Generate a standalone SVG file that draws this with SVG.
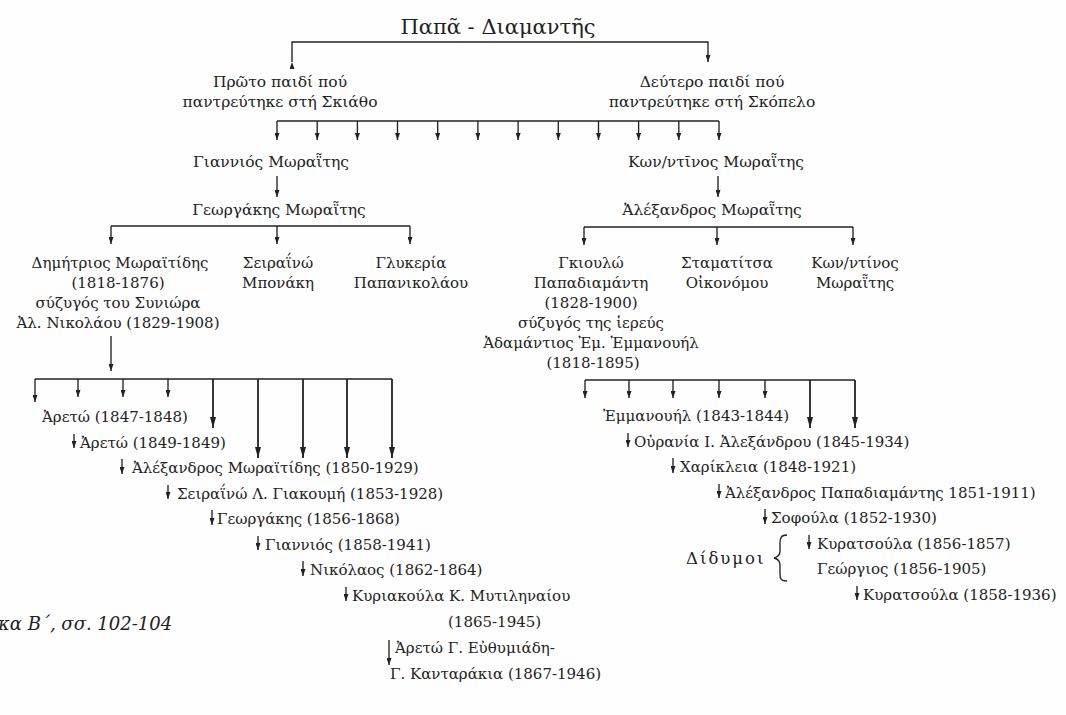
<svg xmlns="http://www.w3.org/2000/svg" width="1066" height="715" viewBox="0 0 1066 715">
<defs>
<style>
text{font-family:"DejaVu Serif","Liberation Serif",serif;fill:#222;font-size:15px}
.c{text-anchor:middle}
.t{font-size:21px}
.n{font-size:15.5px}
.it{font-style:italic;font-size:18px}
.dd{letter-spacing:2px;font-size:16.5px}
.ln{fill:none;stroke:#222;stroke-width:1.35}
.lg{fill:none;stroke:#222;stroke-width:1.8}
</style>
<marker id="ah" viewBox="0 0 10 10" refX="10" refY="5" markerWidth="7" markerHeight="5" markerUnits="userSpaceOnUse" orient="auto" preserveAspectRatio="none"><path d="M0,0 L10,5 L0,10 z" fill="#222"/></marker>
<marker id="ahL" viewBox="0 0 10 10" refX="10" refY="5" markerWidth="11" markerHeight="6" markerUnits="userSpaceOnUse" orient="auto" preserveAspectRatio="none"><path d="M0,0 L10,5 L0,10 z" fill="#222"/></marker>
</defs>
<rect width="1066" height="715" fill="#fefefe"/>

<g id="connectors">
<path class="ln" d="M292,62 V42 H708 V62" marker-start="url(#ah)" marker-end="url(#ah)"/>
<path class="ln" d="M277,121 H719"/>
<g class="ln" marker-end="url(#ah)">
<line x1="277" y1="121" x2="277" y2="140"/><line x1="317.2" y1="121" x2="317.2" y2="140"/><line x1="357.4" y1="121" x2="357.4" y2="140"/><line x1="397.5" y1="121" x2="397.5" y2="140"/><line x1="437.7" y1="121" x2="437.7" y2="140"/><line x1="477.9" y1="121" x2="477.9" y2="140"/><line x1="518.1" y1="121" x2="518.1" y2="140"/><line x1="558.3" y1="121" x2="558.3" y2="140"/><line x1="598.5" y1="121" x2="598.5" y2="140"/><line x1="638.6" y1="121" x2="638.6" y2="140"/><line x1="678.8" y1="121" x2="678.8" y2="140"/><line x1="719" y1="121" x2="719" y2="140"/>
<line x1="277" y1="176" x2="277" y2="197"/><line x1="718" y1="176" x2="718" y2="197"/>
<line x1="111" y1="226" x2="111" y2="244"/><line x1="277" y1="226" x2="277" y2="244"/><line x1="410" y1="226" x2="410" y2="244"/>
<line x1="584" y1="227" x2="584" y2="245"/><line x1="717" y1="227" x2="717" y2="245"/><line x1="853" y1="227" x2="853" y2="245"/>
<line x1="111" y1="336" x2="111" y2="371"/>
<line x1="35" y1="379" x2="35" y2="402"/><line x1="78" y1="379" x2="78" y2="397"/><line x1="123" y1="379" x2="123" y2="397"/><line x1="168" y1="379" x2="168" y2="397"/>
<line x1="585" y1="380" x2="585" y2="398"/><line x1="629" y1="380" x2="629" y2="398"/><line x1="673" y1="380" x2="673" y2="398"/><line x1="719" y1="380" x2="719" y2="398"/><line x1="765" y1="380" x2="765" y2="398"/>
</g>
<path class="ln" d="M111,226 H410 M584,227 H853 M35,379 H392 M585,380 H855"/>
<g class="lg" marker-end="url(#ahL)">
<line x1="213" y1="379" x2="213" y2="428"/><line x1="258" y1="379" x2="258" y2="458"/><line x1="303" y1="379" x2="303" y2="458"/><line x1="347" y1="379" x2="347" y2="458"/><line x1="392" y1="379" x2="392" y2="458"/>
<line x1="810" y1="380" x2="810" y2="428"/><line x1="855" y1="380" x2="855" y2="428"/>
</g>
<g class="ln" marker-end="url(#ah)">
<line x1="74" y1="434" x2="74" y2="448"/>
<line x1="122" y1="459" x2="122" y2="474"/>
<line x1="168" y1="485" x2="168" y2="499"/>
<line x1="212" y1="510" x2="212" y2="525"/>
<line x1="258" y1="536" x2="258" y2="550"/>
<line x1="303" y1="561" x2="303" y2="576"/>
<line x1="346" y1="587" x2="346" y2="601"/>
<line x1="389" y1="640" x2="389" y2="665"/>
<line x1="628" y1="433" x2="628" y2="447"/>
<line x1="673" y1="458" x2="673" y2="473"/>
<line x1="719" y1="484" x2="719" y2="498"/>
<line x1="765" y1="509" x2="765" y2="524"/>
<line x1="809" y1="535" x2="809" y2="549"/>
<line x1="857" y1="586" x2="857" y2="600"/>
</g>
<path class="ln" stroke-width="1.5" d="M787,535 C781,535 780,538 780,543 L780,551 C780,555 778,557 774,558 C778,559 780,561 780,565 L780,574 C780,579 781,581 787,581"/>
</g>

<g id="n-root"><text class="c t" x="498" y="34">Παπᾶ - Διαμαντῆς</text></g>
<g id="n-first"><text class="c n" x="280" y="87">Πρῶτο παιδί πού</text><text class="c n" x="280" y="107">παντρεύτηκε στή Σκιάθο</text></g>
<g id="n-second"><text class="c n" x="712" y="87">Δεύτερο παιδί πού</text><text class="c n" x="712" y="107">παντρεύτηκε στή Σκόπελο</text></g>
<g id="n-giannios"><text class="c n" x="271" y="167">Γιαννιός Μωραῗτης</text></g>
<g id="n-konst"><text class="c n" x="716" y="167">Κων/ντῖνος Μωραῗτης</text></g>
<g id="n-georgakis"><text class="c n" x="279" y="215">Γεωργάκης Μωραῗτης</text></g>
<g id="n-alexandros"><text class="c n" x="712" y="215">Ἀλέξανδρος Μωραῗτης</text></g>
<g id="n-dimitrios"><text class="c" x="120" y="268">Δημήτριος Μωραϊτίδης</text><text class="c" x="118" y="288">(1818-1876)</text><text class="c" x="118" y="308">σύζυγός του Συνιώρα</text><text class="c" x="118" y="328">Ἀλ. Νικολάου (1829-1908)</text></g>
<g id="n-seiraino"><text class="c" x="278" y="268">Σειραΐνώ</text><text class="c" x="278" y="288">Μπονάκη</text></g>
<g id="n-glykeria"><text class="c" x="411" y="268">Γλυκερία</text><text class="c" x="411" y="288">Παπανικολάου</text></g>
<g id="n-gkioulo"><text class="c" x="591" y="268">Γκιουλώ</text><text class="c" x="591" y="288">Παπαδιαμάντη</text><text class="c" x="591" y="308">(1828-1900)</text><text class="c" x="591" y="328">σύζυγός της ἱερεύς</text><text class="c" x="591" y="348">Ἀδαμάντιος Ἐμ. Ἐμμανουήλ</text><text class="c" x="593" y="368">(1818-1895)</text></g>
<g id="n-stamatitsa"><text class="c" x="727" y="268">Σταματίτσα</text><text class="c" x="727" y="288">Οἰκονόμου</text></g>
<g id="n-konst2"><text class="c" x="855" y="268">Κων/ντίνος</text><text class="c" x="855" y="288">Μωραῗτης</text></g>

<g id="n-l1"><text x="42" y="422">Ἀρετώ (1847-1848)</text></g>
<g id="n-l2"><text x="80" y="447.5">Ἀρετώ (1849-1849)</text></g>
<g id="n-l3"><text x="132" y="473">Ἀλέξανδρος Μωραϊτίδης (1850-1929)</text></g>
<g id="n-l4"><text x="177" y="498.5">Σειραΐνώ Λ. Γιακουμή (1853-1928)</text></g>
<g id="n-l5"><text x="217" y="524">Γεωργάκης (1856-1868)</text></g>
<g id="n-l6"><text x="265" y="549.5">Γιαννιός (1858-1941)</text></g>
<g id="n-l7"><text x="310" y="575">Νικόλαος (1862-1864)</text></g>
<g id="n-l8"><text x="352" y="600.5">Κυριακούλα Κ. Μυτιληναίου</text><text x="448" y="627">(1865-1945)</text></g>
<g id="n-l9"><text x="395" y="653">Ἀρετώ Γ. Εὐθυμιάδη-</text><text x="390" y="679">Γ. Κανταράκια (1867-1946)</text></g>

<g id="n-r1"><text x="603" y="421">Ἐμμανουήλ (1843-1844)</text></g>
<g id="n-r2"><text x="634" y="446.5">Οὐρανία Ι. Ἀλεξάνδρου (1845-1934)</text></g>
<g id="n-r3"><text x="680" y="472">Χαρίκλεια (1848-1921)</text></g>
<g id="n-r4"><text x="725" y="497.5">Ἀλέξανδρος Παπαδιαμάντης 1851-1911)</text></g>
<g id="n-r5"><text x="771" y="523">Σοφούλα (1852-1930)</text></g>
<g id="n-r6"><text x="817" y="548.5">Κυρατσούλα (1856-1857)</text></g>
<g id="n-r7"><text x="817" y="574">Γεώργιος (1856-1905)</text></g>
<g id="n-r8"><text x="863" y="599.5">Κυρατσούλα (1858-1936)</text></g>
<g id="n-twins"><text class="dd" x="686" y="564">Δίδυμοι</text></g>

<g id="caption"><text class="it" x="-2" y="630">κα Β΄, σσ. 102-104</text></g>
</svg>
